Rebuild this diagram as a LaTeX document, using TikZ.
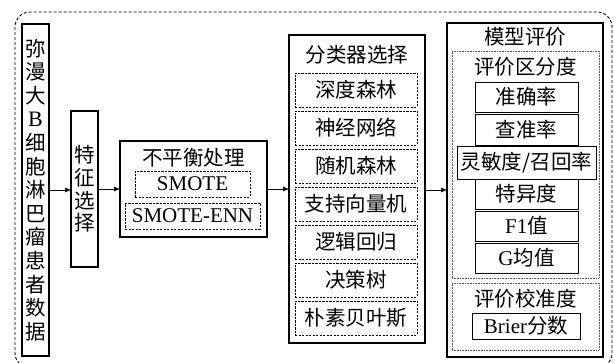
\documentclass[tikz,border=0pt]{standalone}
\usepackage{fontspec}
\setmainfont{Liberation Serif}
\newfontfamily\cjk{Noto Sans CJK SC}
\usetikzlibrary{arrows.meta}
\newcommand\lat[1]{{\rmfamily #1}}
\begin{document}
\begin{tikzpicture}[x=1pt,y=-1pt,
  every node/.style={inner sep=0pt,outer sep=0pt,font=\cjk\fontsize{20.5}{23.6}\selectfont},
  box/.style={draw,line width=1.1pt},
  dbox/.style={draw,line width=0.9pt,dash pattern=on 2.2pt off 1.3pt},
  obox/.style={draw,gray!70!black,line width=0.8pt,dash pattern=on 0.8pt off 0.8pt},
  lbl/.style={},
  arr/.style={-{Latex[length=6pt,width=5pt]},line width=0.6pt}]
\useasboundingbox (0,0) rectangle (614,363);
\clip (0,0) rectangle (614,363);
\draw[line width=0.9pt,dash pattern=on 3pt off 2pt,rounded corners=15pt] (15,12) rectangle (612,368);
% data
\node[box,minimum width=27pt,minimum height=332pt,align=center] (data) at (35.5,190)
 {弥\\漫\\大\\\lat{\fontsize{22}{23.6}\selectfont B}\\细\\胞\\淋\\巴\\瘤\\患\\者\\数\\据};
% feature
\node[box,minimum width=27pt,minimum height=156pt,align=center,font=\cjk\fontsize{20.5}{22.7}\selectfont] (feat) at (84.5,189)
 {特\\征\\选\\择};
% imbalance
\node[box,minimum width=147pt,minimum height=96pt] (imb) at (193.5,189) {};
\node[lbl] (imbt) at (193.5,158) {不平衡处理};
\node[dbox,minimum width=115pt,minimum height=26pt] (smote) at (192.5,184) {\lat{\fontsize{21}{24}\selectfont SMOTE}};
\node[dbox,minimum width=135pt,minimum height=26pt] (smoteenn) at (192.5,216) {\lat{\fontsize{21}{24}\selectfont SMOTE-ENN}};
% classifiers
\node[box,minimum width=136pt,minimum height=308pt] (cls) at (357,189) {};
\node[lbl] (clst) at (357,55) {分类器选择};
\foreach \t [count=\i from 0] in {深度森林,神经网络,随机森林,支持向量机,逻辑回归,决策树,朴素贝叶斯}{
  \node[dbox,minimum width=122pt,minimum height=34pt] (c\i) at (356,90+38*\i) {\t};
}
% model evaluation
\node[box,minimum width=156pt,minimum height=334pt] (model) at (525,190) {};
\node[lbl] (modelt) at (525,37) {模型评价};
\node[obox,minimum width=147pt,minimum height=227pt] (disc) at (525.5,164.5) {};
\node[lbl] (disct) at (525.5,67) {评价区分度};
\node[box,line width=0.9pt,minimum width=103pt,minimum height=30pt] (m1) at (526.5,97) {准确率};
\node[box,line width=0.9pt,minimum width=103pt,minimum height=31pt] (m2) at (526.5,129.5) {查准率};
\node[box,line width=0.9pt,minimum width=139pt,minimum height=33pt] (m3) at (526.5,163) {灵敏度/召回率};
\node[box,line width=0.9pt,minimum width=103pt,minimum height=30pt] (m4) at (526.5,194) {特异度};
\node[box,line width=0.9pt,minimum width=103pt,minimum height=30pt] (m5) at (526.5,226) {\lat{\fontsize{21}{24}\selectfont F1}值};
\node[box,line width=0.9pt,minimum width=103pt,minimum height=30pt] (m6) at (526.5,258) {\lat{\fontsize{21}{24}\selectfont G}均值};
\node[obox,minimum width=147pt,minimum height=67pt] (calib) at (525.5,316.5) {};
\node[lbl] (calibt) at (525.5,299) {评价校准度};
\node[box,line width=0.9pt,minimum width=108pt,minimum height=26pt] (brier) at (526,326) {\lat{\fontsize{21}{24}\selectfont Brier}分数};
% arrows
\draw[arr] (data.east) -- (feat.west |- data.east);
\draw[arr] (feat.east) -- (imb.west |- feat.east);
\draw[arr] (imb.east) -- (cls.west |- imb.east);
\draw[arr] (cls.east |- model.west) -- (model.west);
\end{tikzpicture}
\end{document}
